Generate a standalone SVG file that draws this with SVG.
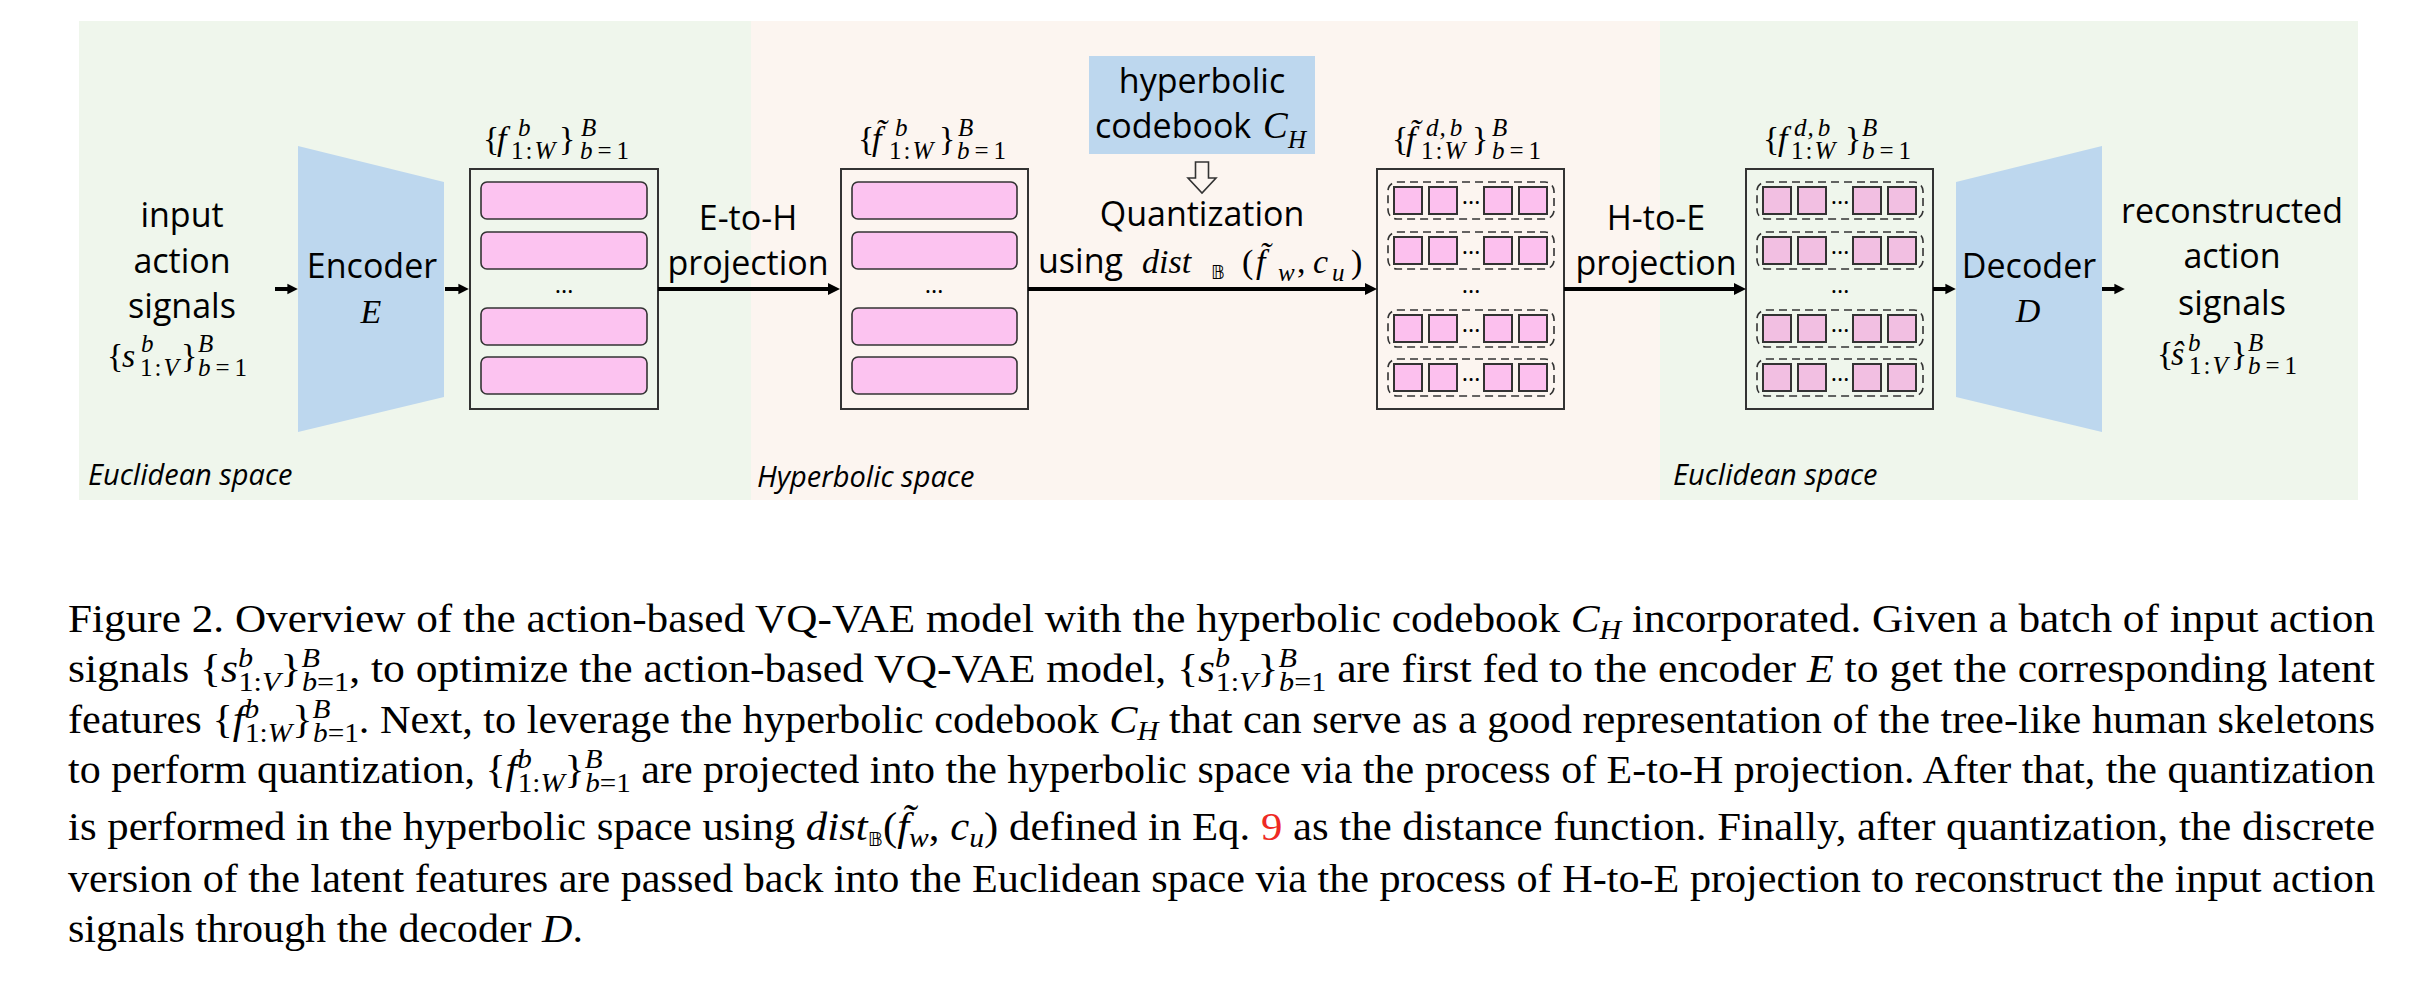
<svg xmlns="http://www.w3.org/2000/svg" width="2420" height="992" viewBox="0 0 2420 992">
<style>
.sans{font-family:"Open Sans","Noto Sans",sans-serif;font-size:34px;fill:#000}
.it{font-family:"Open Sans","Noto Sans",sans-serif;font-size:29px;font-style:italic;fill:#000}
.m{font-family:"Liberation Serif",serif;font-size:34px;fill:#000}
.ms{font-size:25px}
.mi{font-style:italic}
.bb{font-family:"DejaVu Sans",sans-serif;font-size:19px}
.cap{font-family:"Liberation Serif",serif;font-size:39px;fill:#000}
.ci{font-style:italic}
.cs{font-size:27px}
.box{fill:none;stroke:#333;stroke-width:2}
.bar{fill:#FCC3F0;stroke:#333;stroke-width:1.6}
.row{fill:none;stroke:#333;stroke-width:1.6;stroke-dasharray:8 5}
.sq3{fill:#FCC0EE;stroke:#333;stroke-width:2}
.sq4{fill:#F2BFE2;stroke:#333;stroke-width:2}
.dot{font-family:"Open Sans",sans-serif;font-size:24px;fill:#000}
.arr{stroke:#000;stroke-width:4;fill:none}
</style>
<defs>
<marker id="ah" viewBox="0 0 10 10" refX="2.5" refY="5" markerWidth="3" markerHeight="3" markerUnits="strokeWidth" orient="auto"><path d="M0,0L10,5L0,10z" fill="#000"/></marker>
<marker id="ahs" viewBox="0 0 10 10" refX="2.5" refY="5" markerWidth="2.6" markerHeight="2.8" markerUnits="strokeWidth" orient="auto"><path d="M0,0L10,5L0,10z" fill="#000"/></marker>
<g id="row3">
<rect class="row" x="0" y="0" width="166" height="37" rx="9"/>
<rect class="sq3" x="6" y="5" width="28" height="27"/>
<rect class="sq3" x="41" y="5" width="28" height="27"/>
<rect class="sq3" x="96" y="5" width="28" height="27"/>
<rect class="sq3" x="131" y="5" width="28" height="27"/>
<text class="dot" x="83" y="22" text-anchor="middle" font-size="18">…</text>
</g>
<g id="row4">
<rect class="row" x="0" y="0" width="166" height="37" rx="9"/>
<rect class="sq4" x="6" y="5" width="28" height="27"/>
<rect class="sq4" x="41" y="5" width="28" height="27"/>
<rect class="sq4" x="96" y="5" width="28" height="27"/>
<rect class="sq4" x="131" y="5" width="28" height="27"/>
<text class="dot" x="83" y="22" text-anchor="middle" font-size="18">…</text>
</g>
</defs>

<g id="backgrounds">
<rect x="79" y="21" width="672" height="479" fill="#EFF6EC"/>
<rect x="751" y="21" width="909" height="479" fill="#FCF5F0"/>
<rect x="1660" y="21" width="698" height="479" fill="#EFF6EC"/>
<text class="it" x="88" y="485">Euclidean space</text>
<text class="it" x="757" y="487">Hyperbolic space</text>
<text class="it" x="1673" y="485">Euclidean space</text>
</g>

<g id="input">
<text class="sans" x="182" y="227" text-anchor="middle">input</text>
<text class="sans" x="182" y="273" text-anchor="middle">action</text>
<text class="sans" x="182" y="318" text-anchor="middle">signals</text>
<text class="m" y="367"><tspan x="107">{</tspan><tspan x="122" class="mi">s</tspan><tspan x="141" y="352" class="ms mi">b</tspan><tspan x="140" y="376" class="ms">1</tspan><tspan class="ms" dx="2">:</tspan><tspan class="ms mi" dx="2">V</tspan><tspan x="181" y="367">}</tspan><tspan x="198" y="352" class="ms mi">B</tspan><tspan x="198" y="376" class="ms mi">b</tspan><tspan class="ms" dx="5">=</tspan><tspan class="ms" dx="5">1</tspan></text>
</g>

<g id="encoder">
<polygon points="298,146 444,182 444,397 298,432" fill="#BDD7EE"/>
<text class="sans" x="372" y="278" text-anchor="middle">Encoder</text>
<text class="m mi" x="371" y="323" text-anchor="middle" font-size="37">E</text>
</g>

<g id="features">
<rect class="box" x="470" y="169" width="188" height="240"/>
<rect class="bar" x="481" y="182" width="166" height="37" rx="6"/>
<rect class="bar" x="481" y="232" width="166" height="37" rx="6"/>
<text class="dot" x="564" y="293" text-anchor="middle">…</text>
<rect class="bar" x="481" y="308" width="166" height="37" rx="6"/>
<rect class="bar" x="481" y="357" width="166" height="37" rx="6"/>
<text class="m" y="150"><tspan x="483">{</tspan><tspan x="497" class="mi">f</tspan><tspan x="518" y="136" class="ms mi">b</tspan><tspan x="511" y="159" class="ms">1</tspan><tspan class="ms" dx="2">:</tspan><tspan class="ms mi" dx="2">W</tspan><tspan x="559" y="150">}</tspan><tspan x="581" y="136" class="ms mi">B</tspan><tspan x="580" y="159" class="ms mi">b</tspan><tspan class="ms" dx="5">=</tspan><tspan class="ms" dx="5">1</tspan></text>
</g>

<g id="hyp-features">
<rect class="box" x="841" y="169" width="187" height="240"/>
<rect class="bar" x="852" y="182" width="165" height="37" rx="6"/>
<rect class="bar" x="852" y="232" width="165" height="37" rx="6"/>
<text class="dot" x="934" y="293" text-anchor="middle">…</text>
<rect class="bar" x="852" y="308" width="165" height="37" rx="6"/>
<rect class="bar" x="852" y="357" width="165" height="37" rx="6"/>
<text class="m" y="150"><tspan x="858">{</tspan><tspan x="872" class="mi">f̃</tspan><tspan x="895" y="136" class="ms mi">b</tspan><tspan x="889" y="159" class="ms">1</tspan><tspan class="ms" dx="2">:</tspan><tspan class="ms mi" dx="2">W</tspan><tspan x="939" y="150">}</tspan><tspan x="958" y="136" class="ms mi">B</tspan><tspan x="957" y="159" class="ms mi">b</tspan><tspan class="ms" dx="5">=</tspan><tspan class="ms" dx="5">1</tspan></text>
</g>

<g id="codebook">
<rect x="1089" y="56" width="226" height="98" fill="#BDD7EE"/>
<text class="sans" x="1202" y="93" text-anchor="middle">hyperbolic</text>
<text class="sans" x="1095" y="138">codebook</text>
<text class="m mi" y="138"><tspan x="1263" font-size="37">C</tspan><tspan x="1288" y="148" class="ms">H</tspan></text>
<polygon points="1195.5,162 1208.5,162 1208.5,178 1216,178 1202,193 1188,178 1195.5,178" fill="none" stroke="#333" stroke-width="1.6"/>
</g>

<g id="quantization-label">
<text class="sans" x="1202" y="226" text-anchor="middle">Quantization</text>
<text class="sans" x="1038" y="273">using</text>
<text class="m" y="273" font-size="36"><tspan x="1142" class="mi">dist</tspan><tspan x="1211" y="279" class="bb">𝔹</tspan><tspan x="1242" y="273">(</tspan><tspan x="1256" class="mi">f̃</tspan><tspan x="1278" y="281" class="ms mi">w</tspan><tspan x="1297" y="273">,</tspan><tspan x="1313" class="mi">c</tspan><tspan x="1332" y="281" class="ms mi">u</tspan><tspan x="1351" y="273">)</tspan></text>
</g>

<g id="quantized">
<rect class="box" x="1377" y="169" width="187" height="240"/>
<use href="#row3" x="1388" y="182"/>
<use href="#row3" x="1388" y="232"/>
<text class="dot" x="1471" y="293" text-anchor="middle">…</text>
<use href="#row3" x="1388" y="310"/>
<use href="#row3" x="1388" y="359"/>
<text class="m" y="150"><tspan x="1392">{</tspan><tspan x="1406" class="mi">f̃</tspan><tspan x="1426" y="136" class="ms mi">d</tspan><tspan class="ms mi" dx="1">,</tspan><tspan class="ms mi" dx="4">b</tspan><tspan x="1421" y="159" class="ms">1</tspan><tspan class="ms" dx="2">:</tspan><tspan class="ms mi" dx="2">W</tspan><tspan x="1472" y="150">}</tspan><tspan x="1492" y="136" class="ms mi">B</tspan><tspan x="1492" y="159" class="ms mi">b</tspan><tspan class="ms" dx="5">=</tspan><tspan class="ms" dx="5">1</tspan></text>
</g>

<g id="euc-quantized">
<rect class="box" x="1746" y="169" width="187" height="240"/>
<use href="#row4" x="1757" y="182"/>
<use href="#row4" x="1757" y="232"/>
<text class="dot" x="1840" y="293" text-anchor="middle">…</text>
<use href="#row4" x="1757" y="310"/>
<use href="#row4" x="1757" y="359"/>
<text class="m" y="150"><tspan x="1763">{</tspan><tspan x="1778" class="mi">f</tspan><tspan x="1794" y="136" class="ms mi">d</tspan><tspan class="ms mi" dx="1">,</tspan><tspan class="ms mi" dx="4">b</tspan><tspan x="1791" y="159" class="ms">1</tspan><tspan class="ms" dx="2">:</tspan><tspan class="ms mi" dx="2">W</tspan><tspan x="1845" y="150">}</tspan><tspan x="1862" y="136" class="ms mi">B</tspan><tspan x="1862" y="159" class="ms mi">b</tspan><tspan class="ms" dx="5">=</tspan><tspan class="ms" dx="5">1</tspan></text>
</g>

<g id="decoder">
<polygon points="1956,182 2102,146 2102,432 1956,397" fill="#BDD7EE"/>
<text class="sans" x="2029" y="278" text-anchor="middle">Decoder</text>
<text class="m mi" x="2028" y="322" text-anchor="middle" font-size="37">D</text>
</g>

<g id="output">
<text class="sans" x="2232" y="223" text-anchor="middle">reconstructed</text>
<text class="sans" x="2232" y="268" text-anchor="middle">action</text>
<text class="sans" x="2232" y="315" text-anchor="middle">signals</text>
<text class="m" y="365"><tspan x="2157">{</tspan><tspan x="2171" class="mi">ŝ</tspan><tspan x="2188" y="351" class="ms mi">b</tspan><tspan x="2189" y="374" class="ms">1</tspan><tspan class="ms" dx="2">:</tspan><tspan class="ms mi" dx="2">V</tspan><tspan x="2231" y="365">}</tspan><tspan x="2248" y="351" class="ms mi">B</tspan><tspan x="2248" y="374" class="ms mi">b</tspan><tspan class="ms" dx="5">=</tspan><tspan class="ms" dx="5">1</tspan></text>
</g>

<g id="connectors">
<line class="arr" x1="275" y1="289" x2="290" y2="289" marker-end="url(#ahs)"/>
<line class="arr" x1="445" y1="289" x2="461" y2="289" marker-end="url(#ahs)"/>
<line class="arr" x1="658" y1="289" x2="831" y2="289" marker-end="url(#ah)"/>
<line class="arr" x1="1028" y1="289" x2="1368" y2="289" marker-end="url(#ah)"/>
<line class="arr" x1="1564" y1="289" x2="1737" y2="289" marker-end="url(#ah)"/>
<line class="arr" x1="1933" y1="289" x2="1948" y2="289" marker-end="url(#ahs)"/>
<line class="arr" x1="2102" y1="289" x2="2117" y2="289" marker-end="url(#ahs)"/>
<text class="sans" x="748" y="230" text-anchor="middle">E-to-H</text>
<text class="sans" x="748" y="275" text-anchor="middle">projection</text>
<text class="sans" x="1656" y="230" text-anchor="middle">H-to-E</text>
<text class="sans" x="1656" y="275" text-anchor="middle">projection</text>
</g>

<g id="caption">
<text class="cap" x="68" y="632" textLength="2307" lengthAdjust="spacingAndGlyphs">Figure 2.  Overview of the action-based VQ-VAE model with the hyperbolic codebook <tspan class="ci">C</tspan><tspan class="ci cs" dy="7">H</tspan><tspan dy="-7"> incorporated.  Given a batch of input action</tspan></text>
<text class="cap" x="68" y="682" textLength="2307" lengthAdjust="spacingAndGlyphs">signals {<tspan class="ci">s</tspan><tspan class="ci cs" dy="-15">b</tspan><tspan class="cs" dx="-13" dy="24">1:</tspan><tspan class="ci cs">V</tspan><tspan dy="-9">}</tspan><tspan class="ci cs" dy="-15">B</tspan><tspan class="ci cs" dx="-16" dy="24">b</tspan><tspan class="cs">=1</tspan><tspan dy="-9">, to optimize the action-based VQ-VAE model, {</tspan><tspan class="ci">s</tspan><tspan class="ci cs" dy="-15">b</tspan><tspan class="cs" dx="-13" dy="24">1:</tspan><tspan class="ci cs">V</tspan><tspan dy="-9">}</tspan><tspan class="ci cs" dy="-15">B</tspan><tspan class="ci cs" dx="-16" dy="24">b</tspan><tspan class="cs">=1</tspan><tspan dy="-9"> are first fed to the encoder </tspan><tspan class="ci">E</tspan> to get the corresponding latent</text>
<text class="cap" x="68" y="733" textLength="2307" lengthAdjust="spacingAndGlyphs">features {<tspan class="ci">f</tspan><tspan class="ci cs" dy="-15">b</tspan><tspan class="cs" dx="-13" dy="24">1:</tspan><tspan class="ci cs">W</tspan><tspan dy="-9">}</tspan><tspan class="ci cs" dy="-15">B</tspan><tspan class="ci cs" dx="-16" dy="24">b</tspan><tspan class="cs">=1</tspan><tspan dy="-9">. Next, to leverage the hyperbolic codebook </tspan><tspan class="ci">C</tspan><tspan class="ci cs" dy="7">H</tspan><tspan dy="-7"> that can serve as a good representation of the tree-like human skeletons</tspan></text>
<text class="cap" x="68" y="783" textLength="2307" lengthAdjust="spacingAndGlyphs">to perform quantization, {<tspan class="ci">f</tspan><tspan class="ci cs" dy="-15">b</tspan><tspan class="cs" dx="-13" dy="24">1:</tspan><tspan class="ci cs">W</tspan><tspan dy="-9">}</tspan><tspan class="ci cs" dy="-15">B</tspan><tspan class="ci cs" dx="-16" dy="24">b</tspan><tspan class="cs">=1</tspan><tspan dy="-9"> are projected into the hyperbolic space via the process of E-to-H projection.  After that, the quantization</tspan></text>
<text class="cap" x="68" y="840" textLength="2307" lengthAdjust="spacingAndGlyphs">is performed in the hyperbolic space using <tspan class="ci">dist</tspan><tspan class="bb" dy="6">𝔹</tspan><tspan dy="-6">(</tspan><tspan class="ci">f̃</tspan><tspan class="ci cs" dy="7">w</tspan><tspan dy="-7">, </tspan><tspan class="ci">c</tspan><tspan class="ci cs" dy="7">u</tspan><tspan dy="-7">) defined in Eq. </tspan><tspan fill="#EE2A24">9</tspan> as the distance function. Finally, after quantization, the discrete</text>
<text class="cap" x="68" y="892" textLength="2307" lengthAdjust="spacingAndGlyphs">version of the latent features are passed back into the Euclidean space via the process of H-to-E projection to reconstruct the input action</text>
<text class="cap" x="68" y="942" textLength="515" lengthAdjust="spacingAndGlyphs">signals through the decoder <tspan class="ci">D</tspan>.</text>
</g>
</svg>
